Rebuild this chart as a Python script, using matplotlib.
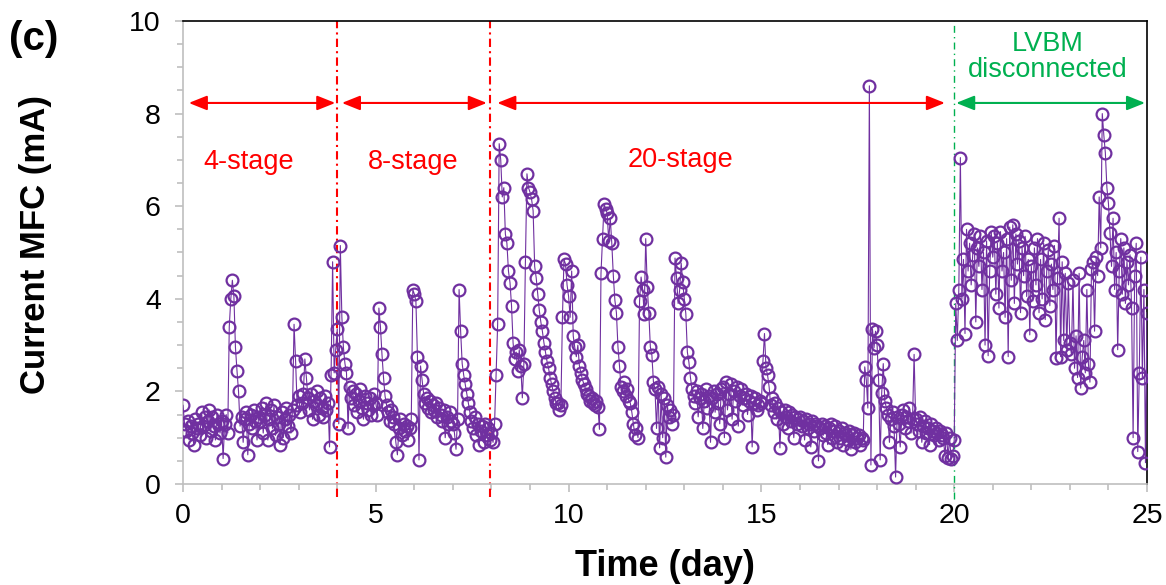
import numpy as np
import matplotlib
matplotlib.use('Agg')
import matplotlib.pyplot as plt
from matplotlib.ticker import MultipleLocator

plt.rcParams['font.family'] = ['Liberation Sans', 'DejaVu Sans']

# logger interval (day), one reading every ~1 h
SAMPLE_STEP = 0.04

# current of the MFC (mA), day 0 - 4 (4-stage LVBM)
current_4stage = [
    1.70, 1.30, 1.15, 1.35, 0.95, 1.25, 1.10, 0.85, 1.40, 1.20, 1.30, 1.05, 1.55, 1.25, 1.45, 1.00, 1.35, 1.60, 1.15, 1.45, 1.25, 0.95, 1.50, 1.30, 1.10,
    1.35, 0.55, 1.30, 1.50, 1.10, 3.40, 4.00, 4.40, 4.05, 2.95, 2.45, 2.00, 1.25, 1.45, 0.90, 1.40, 1.55, 0.63, 1.30, 1.50, 1.20, 1.60, 1.35, 0.95, 1.45,
    1.35, 1.65, 1.10, 1.50, 1.75, 0.95, 1.40, 1.60, 1.20, 1.70, 1.05, 1.45, 1.30, 0.85, 1.55, 1.00, 1.40, 1.65, 1.25, 1.50, 1.10, 1.60, 3.45, 2.65, 1.70,
    1.90, 1.55, 1.75, 1.95, 2.70, 2.30, 1.85, 1.60, 1.95, 1.40, 1.80, 1.70, 2.00, 1.50, 1.85, 1.65, 1.45, 1.90, 1.60, 1.75, 0.80, 2.35, 4.80, 2.40, 2.90,
]
# day 4 - 8 (8-stage)
current_8stage = [
    3.35, 1.30, 5.15, 3.60, 2.95, 2.60, 2.40, 1.20, 2.10, 1.85, 2.00, 1.70, 1.95, 1.55, 1.80, 2.05, 1.65, 1.40, 1.90, 1.75, 1.60, 1.85, 1.50, 1.70, 1.95,
    1.75, 1.50, 3.80, 3.40, 2.80, 2.30, 1.90, 1.70, 1.55, 1.35, 1.60, 1.45, 1.30, 0.90, 0.63, 1.20, 1.40, 1.05, 1.30, 1.15, 1.25, 0.95, 1.20, 1.40, 4.20,
    4.10, 3.95, 2.75, 0.52, 2.55, 2.25, 1.95, 1.75, 1.85, 1.65, 1.80, 1.55, 1.70, 1.60, 1.75, 1.45, 1.65, 1.50, 1.35, 1.60, 1.00, 1.45, 1.30, 1.55, 1.35,
    1.30, 1.10, 0.75, 1.40, 4.20, 3.30, 2.60, 2.35, 2.15, 1.95, 1.75, 1.55, 1.35, 1.20, 1.45, 1.05, 1.30, 0.85, 1.15, 1.25, 0.90, 1.30, 1.05, 1.20, 0.95,
]
# day 8 - 20 (20-stage)
current_20stage = [
    1.10, 0.90, 1.30, 2.35, 3.45, 7.35, 7.00, 6.20, 6.40, 5.40, 5.20, 4.60, 4.35, 3.85, 3.05, 2.70, 2.85, 2.45, 2.90, 2.55, 1.86, 2.60, 4.80, 6.70, 6.40,
    6.30, 6.15, 5.90, 4.70, 4.45, 4.10, 3.75, 3.50, 3.30, 3.05, 2.85, 2.65, 2.50, 2.30, 2.15, 2.00, 1.85, 1.75, 1.75, 1.60, 1.70, 3.60, 4.85, 4.75, 4.30,
    4.05, 3.60, 4.60, 3.20, 2.95, 2.75, 3.00, 2.55, 2.40, 2.25, 2.15, 2.05, 1.95, 1.90, 1.80, 1.85, 1.75, 1.70, 1.80, 1.67, 1.18, 4.55, 5.30, 6.05, 5.95,
    5.85, 5.25, 5.75, 5.20, 4.50, 3.97, 3.70, 2.96, 2.55, 2.10, 2.00, 2.20, 1.90, 2.05, 1.80, 1.75, 1.55, 1.30, 1.05, 1.20, 1.00, 3.95, 4.47, 4.20, 3.68,
    5.30, 4.25, 3.70, 2.96, 2.78, 2.20, 2.05, 1.20, 2.10, 0.78, 1.95, 1.00, 1.85, 0.58, 1.70, 1.45, 1.60, 1.30, 1.50, 4.88, 4.45, 3.90, 4.19, 4.77, 4.36,
    4.00, 3.68, 2.85, 2.63, 2.30, 2.05, 1.90, 1.75, 2.00, 1.45, 1.85, 1.95, 1.20, 1.80, 2.05, 1.65, 1.90, 0.90, 1.85, 2.00, 1.55, 1.95, 1.75, 1.30, 2.05,
    2.10, 1.00, 2.20, 1.60, 1.95, 2.15, 1.40, 2.00, 1.80, 2.10, 1.25, 1.90, 2.05, 1.70, 1.85, 1.95, 1.50, 1.80, 1.90, 0.80, 1.75, 1.85, 1.60, 1.70, 1.80,
    1.75, 2.65, 3.25, 2.50, 2.35, 2.10, 1.70, 1.85, 1.55, 1.75, 1.40, 1.65, 0.78, 1.55, 1.30, 1.60, 1.45, 1.20, 1.55, 1.35, 1.50, 1.00, 1.45, 1.30, 1.40,
    1.45, 1.25, 1.35, 0.95, 1.40, 1.20, 1.30, 0.80, 1.35, 1.15, 1.30, 1.25, 0.50, 1.20, 1.30, 1.05, 1.25, 1.10, 0.85, 1.20, 1.30, 1.00, 1.15, 1.25, 0.90,
    1.15, 1.00, 1.20, 0.85, 1.10, 1.05, 0.95, 1.15, 0.75, 1.05, 1.10, 0.90, 1.00, 1.05, 0.85, 1.00, 0.95, 2.53, 2.25, 1.64, 8.60, 0.41, 3.35, 2.94, 3.30,
    3.00, 2.25, 0.52, 1.97, 2.60, 1.80, 1.65, 1.50, 0.90, 1.40, 1.55, 1.25, 0.15, 1.45, 1.30, 0.80, 1.50, 1.60, 1.20, 1.45, 1.35, 1.65, 1.10, 1.40, 2.80,
    1.40, 1.30, 1.15, 1.45, 0.90, 1.25, 1.35, 1.10, 1.20, 0.85, 1.30, 1.15, 1.05, 1.20, 1.10, 0.95, 1.15, 1.05, 1.00, 0.60, 1.10, 0.56, 1.00, 0.55, 0.60,
]
# day 20 - 25 (LVBM disconnected)
current_disconnected = [
    0.95, 3.90, 3.10, 4.20, 7.05, 4.00, 4.85, 3.25, 5.50, 4.60, 5.20, 4.30, 4.95, 5.40, 3.50, 5.10, 4.70, 5.35, 4.20, 5.00, 3.00, 5.25, 2.77, 4.60, 5.45,
    4.90, 5.35, 4.10, 5.20, 3.80, 5.45, 4.60, 5.00, 3.60, 5.30, 2.75, 5.55, 4.40, 5.60, 3.90, 5.40, 4.75, 5.25, 3.70, 5.10, 4.50, 5.35, 4.05, 4.85, 3.22,
    4.70, 3.95, 5.10, 4.30, 5.30, 3.70, 4.85, 4.00, 5.20, 3.55, 4.60, 5.05, 3.85, 4.75, 4.20, 5.15, 2.73, 4.45, 5.74, 2.75, 4.80, 3.10, 4.55, 2.90, 4.35,
    3.05, 2.80, 4.40, 2.50, 3.20, 2.30, 4.55, 2.07, 2.75, 3.10, 2.40, 4.20, 2.60, 2.20, 4.65, 4.80, 3.30, 4.90, 4.50, 6.20, 5.10, 8.00, 7.54, 7.15, 6.40,
    6.06, 5.42, 4.70, 5.74, 4.20, 5.00, 2.90, 4.60, 5.30, 4.10, 5.10, 3.90, 4.80, 4.30, 4.95, 3.80, 1.00, 4.50, 5.20, 0.70, 2.40, 4.90, 2.30, 4.20, 0.46, 3.70,
]

stage_switch_days = [4.0, 7.95]
disconnect_day = 20.0
stage_names = ['4-stage', '8-stage', '20-stage']

PURPLE = '#7030A0'
RED = '#FF0000'
GREEN = '#00B050'
GREY = '#BFBFBF'

current = np.array(current_4stage + current_8stage + current_20stage + current_disconnected)
time = np.arange(len(current)) * SAMPLE_STEP

fig = plt.figure(figsize=(11.66, 5.85), dpi=100)
ax = fig.add_axes([183 / 1166, 1 - 484 / 585, (1147 - 183) / 1166, (484 - 21) / 585])

ax.plot(time, current, color=PURPLE, lw=0.8, marker='o', ms=8.5, mfc='none',
        mec=PURPLE, mew=1.6, zorder=3)

ax.set_xlim(0, 25)
ax.set_ylim(0, 10)
ax.xaxis.set_major_locator(MultipleLocator(5))
ax.xaxis.set_minor_locator(MultipleLocator(1))
ax.yaxis.set_major_locator(MultipleLocator(2))
ax.yaxis.set_minor_locator(MultipleLocator(0.5))
ax.tick_params(which='both', direction='out', color=GREY, width=1.2, labelsize=20.5)
ax.tick_params(which='major', length=6)
ax.tick_params(which='minor', length=4)
ax.tick_params(axis='x', pad=8)
ax.tick_params(axis='y', pad=10)
for s in ['left', 'bottom']:
    ax.spines[s].set_color(GREY)
    ax.spines[s].set_linewidth(1.2)
for s in ['top', 'right']:
    ax.spines[s].set_color('black')
    ax.spines[s].set_linewidth(1.2)

# stage boundaries
for d in stage_switch_days:
    ax.plot([d, d], [-0.28, 10], color=RED, lw=1.5, ls=(0, (4, 2, 1, 2)),
            clip_on=False, zorder=2)
ax.plot([disconnect_day, disconnect_day], [-0.33, 10], color=GREEN, lw=1.0,
        ls=(0, (5, 3, 1, 3)), clip_on=False, zorder=2)

# arrows showing each period
arrow_y = 8.23
spans = [(0.15, 3.95, RED), (4.12, 7.88, RED), (8.15, 19.76, RED), (20.05, 24.95, GREEN)]
for x0, x1, c in spans:
    ax.annotate('', xy=(x1, arrow_y), xytext=(x0, arrow_y),
                arrowprops=dict(arrowstyle='<|-|>,head_length=0.5,head_width=0.2',
                                color=c, lw=1.5, mutation_scale=22,
                                shrinkA=0, shrinkB=0))

ax.text(1.7, 6.95, stage_names[0], color=RED, fontsize=19.5, ha='center', va='center')
ax.text(5.96, 6.95, stage_names[1], color=RED, fontsize=19.5, ha='center', va='center')
ax.text(12.9, 7.0, stage_names[2], color=RED, fontsize=19.5, ha='center', va='center')
ax.text(22.43, 9.22, 'LVBM\ndisconnected', color=GREEN, fontsize=19.5,
        ha='center', va='center', linespacing=1.0)

fig.text(0.5 * (183 + 1147) / 1166, 1 - 566 / 585, 'Time (day)', fontsize=26,
         fontweight='bold', ha='center', va='center')
fig.text(36 / 1166, 1 - 244 / 585, 'Current MFC (mA)', fontsize=25,
         fontweight='bold', ha='center', va='center', rotation=90)
fig.text(34 / 1166, 1 - 39 / 585, '(c)', fontsize=29, fontweight='bold',
         ha='center', va='center')

plt.savefig('out.png', dpi=100)
